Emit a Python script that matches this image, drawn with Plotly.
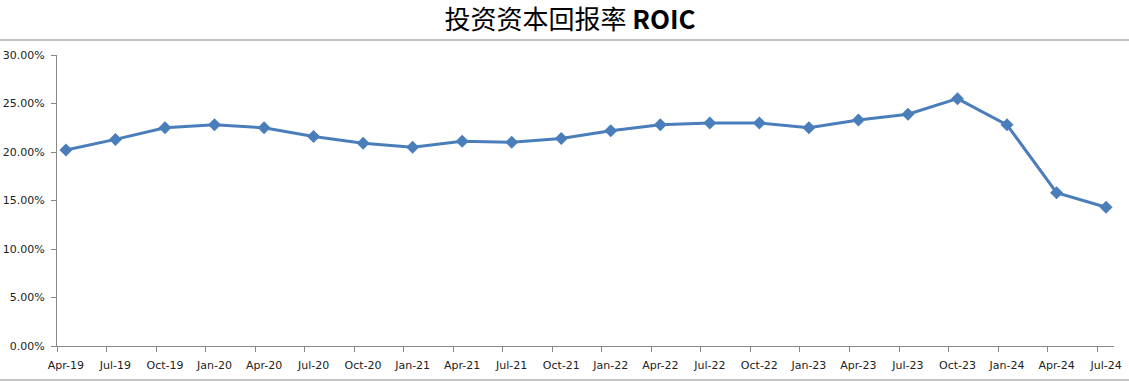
import plotly.graph_objects as go

categories = ["Apr-19", "Jul-19", "Oct-19", "Jan-20", "Apr-20", "Jul-20", "Oct-20", "Jan-21",
              "Apr-21", "Jul-21", "Oct-21", "Jan-22", "Apr-22", "Jul-22", "Oct-22", "Jan-23",
              "Apr-23", "Jul-23", "Oct-23", "Jan-24", "Apr-24", "Jul-24"]
roic = [0.202, 0.213, 0.225, 0.228, 0.225, 0.216, 0.209, 0.205,
        0.211, 0.210, 0.214, 0.222, 0.228, 0.230, 0.230, 0.225,
        0.233, 0.239, 0.255, 0.228, 0.158, 0.143]
y_ticks = [0, 0.05, 0.10, 0.15, 0.20, 0.25, 0.30]

idx = list(range(len(categories)))
tick_offset = -0.18
x_range = [-0.18, len(categories) - 1 + 0.16]

blue = "#4A7EBB"
gray = "#888888"
font = dict(family="DejaVu Sans", size=11, color="#222222")

fig = go.Figure()
fig.add_trace(go.Scatter(
    x=idx, y=roic, mode="lines+markers",
    line=dict(color=blue, width=3),
    marker=dict(symbol="diamond", size=10, color=blue),
    hoverinfo="skip", showlegend=False,
))
# invisible trace to anchor the tick-mark axis
fig.add_trace(go.Scatter(
    x=idx, y=roic, mode="lines", xaxis="x2", opacity=0,
    hoverinfo="skip", showlegend=False,
))

fig.update_layout(
    width=1129, height=381,
    margin=dict(l=57, r=15, t=55, b=35, autoexpand=False),
    paper_bgcolor="white", plot_bgcolor="white",
    font=font,
    title=dict(
        text="投资资本回报率 <b>ROIC</b>",
        x=570 / 1129, xref="container", xanchor="center",
        y=1 - 20 / 381, yref="container", yanchor="middle",
        font=dict(family="Noto Sans CJK SC", size=26, color="#000000"),
    ),
    xaxis=dict(
        range=x_range, tickvals=idx, ticktext=categories,
        ticks="", showline=True, linecolor=gray, linewidth=1,
        showgrid=False, zeroline=False, tickfont=font,
        ticklabelstandoff=9, automargin=False,
    ),
    xaxis2=dict(
        range=x_range, overlaying="x", side="bottom", anchor="y",
        tickvals=[i + tick_offset for i in idx], ticks="outside", ticklen=5,
        tickcolor=gray, showticklabels=False, showline=False,
        showgrid=False, zeroline=False, automargin=False,
    ),
    yaxis=dict(
        range=[0, 0.30], tickvals=y_ticks, tickformat=".2%",
        ticks="outside", ticklen=5, tickcolor=gray,
        showline=True, linecolor=gray, linewidth=1,
        showgrid=False, zeroline=False, tickfont=font,
        ticklabelstandoff=4, automargin=False,
    ),
    shapes=[
        dict(type="line", xref="paper", yref="paper",
             x0=-57 / 1057, x1=1 + 15 / 1057, y0=(346 - 40) / 291, y1=(346 - 40) / 291,
             line=dict(color=gray, width=1)),
        dict(type="line", xref="paper", yref="paper",
             x0=-57 / 1057, x1=1 + 15 / 1057, y0=(346 - 380) / 291, y1=(346 - 380) / 291,
             line=dict(color=gray, width=1)),
    ],
)

fig.write_html("out.html")
